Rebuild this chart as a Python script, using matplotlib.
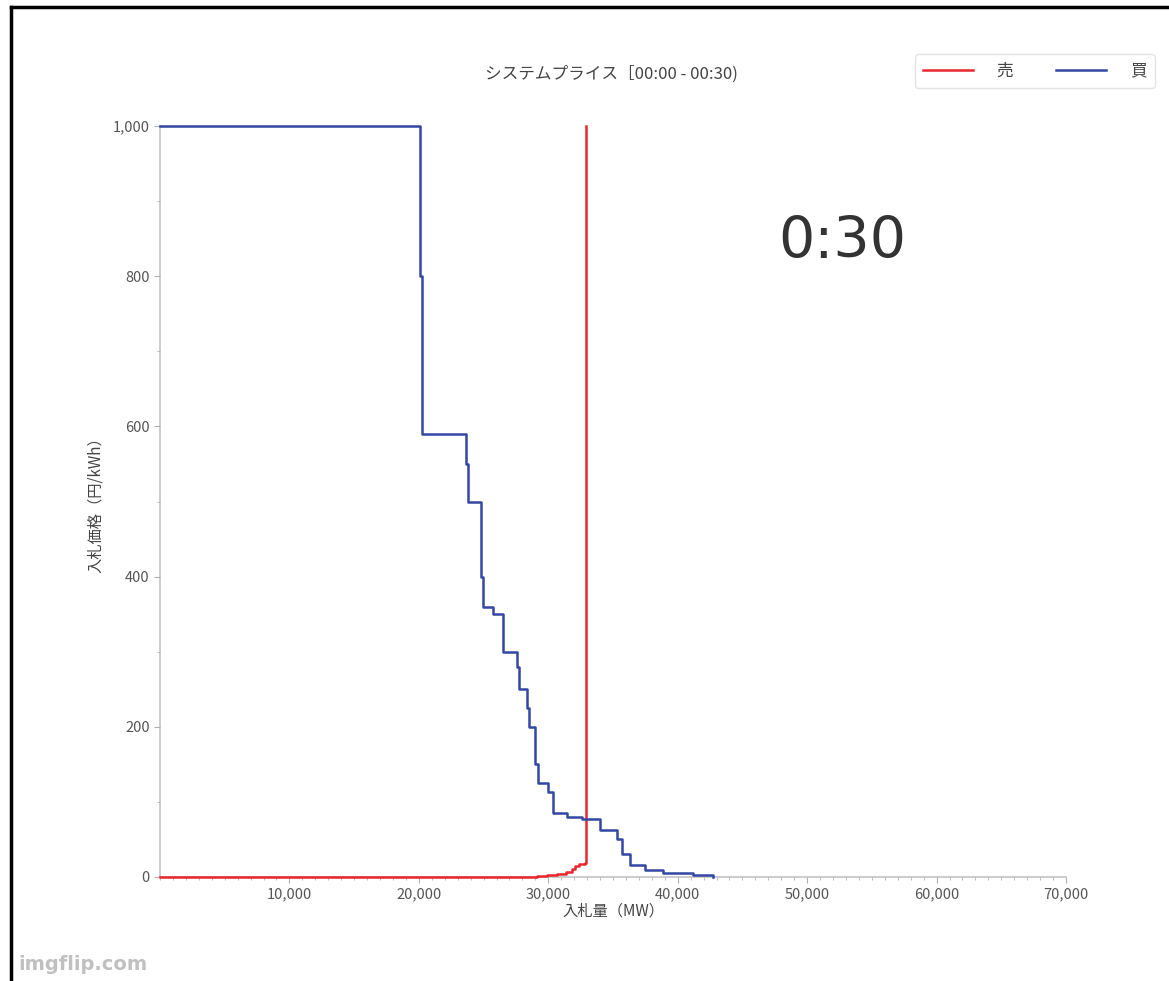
"""
システムプライス 入札曲線 (00:00 - 00:30) の再現
"""
import matplotlib
matplotlib.use("Agg")
import matplotlib.pyplot as plt
from matplotlib.lines import Line2D
from matplotlib.ticker import FuncFormatter, MultipleLocator

plt.rcParams["font.family"] = ["Noto Sans CJK JP", "DejaVu Sans"]

# 売り入札 (累積量 MW, 価格 円/kWh) - steps-post
sell_mw = [0, 29100, 29900, 30700, 31400, 31800, 32100, 32400, 32850, 32900]
sell_price = [0, 1, 2, 4, 6, 10, 14, 17, 18, 1000]

# 買い入札
buy_mw = [0, 20090, 20240, 23640, 23800, 24800, 24950, 25730, 26500, 27580,
          27740, 28350, 28510, 28970, 29200, 29980, 30360, 31440, 32600, 33990,
          35310, 35690, 36310, 37470, 38860, 41180, 42720]
buy_price = [1000, 800, 590, 550, 500, 400, 360, 350, 300, 280,
             250, 225, 200, 150, 125, 113, 85, 80, 77, 63,
             50, 30, 16, 9, 5, 3, 0]

x_ticks = [10000, 20000, 30000, 40000, 50000, 60000, 70000]
y_ticks = [0, 200, 400, 600, 800, 1000]

W, H = 1169, 981
fig = plt.figure(figsize=(W / 100, H / 100), dpi=100)
ax = fig.add_axes([160 / W, 1 - 877 / H, (1066 - 160) / W, (877 - 126) / H])

red = "#e8262c"
blue = "#3347a3"
ax.plot(sell_mw, sell_price, drawstyle="steps-post", color=red, lw=1.8, label="売",
        clip_on=False, zorder=3)
ax.plot(buy_mw, buy_price, drawstyle="steps-post", color=blue, lw=1.8, label="買",
        clip_on=False, zorder=4)

ax.set_xlim(0, 70000)
ax.set_ylim(0, 1000)
ax.set_xticks(x_ticks)
ax.set_yticks(y_ticks)
ax.xaxis.set_minor_locator(MultipleLocator(1000))
ax.yaxis.set_minor_locator(MultipleLocator(100))
fmt = FuncFormatter(lambda v, p: f"{int(v):,}")
ax.xaxis.set_major_formatter(fmt)
ax.yaxis.set_major_formatter(fmt)

for s in ("top", "right"):
    ax.spines[s].set_visible(False)
for s in ("left", "bottom"):
    ax.spines[s].set_color("#c4c4c4")
    ax.spines[s].set_linewidth(1.2)
    ax.spines[s].set_zorder(1)
ax.tick_params(which="both", colors="#b0b0b0", labelcolor="#555555", labelsize=10.5)
ax.tick_params(which="major", length=4)
ax.tick_params(which="minor", length=2.5)

ax.set_xlabel("入札量（MW）", fontsize=11, color="#444444", labelpad=1)
ax.set_ylabel("入札価格（円/kWh）", fontsize=11, color="#444444", labelpad=6)
fig.text(611 / W, 1 - 74 / H, "システムプライス［00:00 - 00:30)", ha="center", va="center",
         fontsize=12, color="#444444")

fig.text(842 / W, 1 - 242 / H, "0:30", ha="center", va="center", fontsize=41,
         color="#333333", family="DejaVu Sans")

leg = fig.legend(loc="upper right", bbox_to_anchor=(1163 / W, 1 - 46 / H), ncol=2,
                 fontsize=12, handlelength=3.0, columnspacing=2.6, handletextpad=1.4,
                 frameon=True, borderpad=0.5)
leg.get_frame().set_edgecolor("#dddddd")
for t in leg.get_texts():
    t.set_color("#444444")

fig.text(18 / W, 1 - 965 / H, "imgflip.com", ha="left", va="center", fontsize=14,
         color="#c0c0c0", weight="bold", family="DejaVu Sans")

# 枠線
fig.add_artist(Line2D([11 / W, 1], [1 - 7 / H, 1 - 7 / H], color="black", lw=2.5,
                      transform=fig.transFigure))
fig.add_artist(Line2D([11 / W, 11 / W], [0, 1 - 7 / H], color="black", lw=2.5,
                      transform=fig.transFigure))

fig.savefig("out.png", dpi=100)
